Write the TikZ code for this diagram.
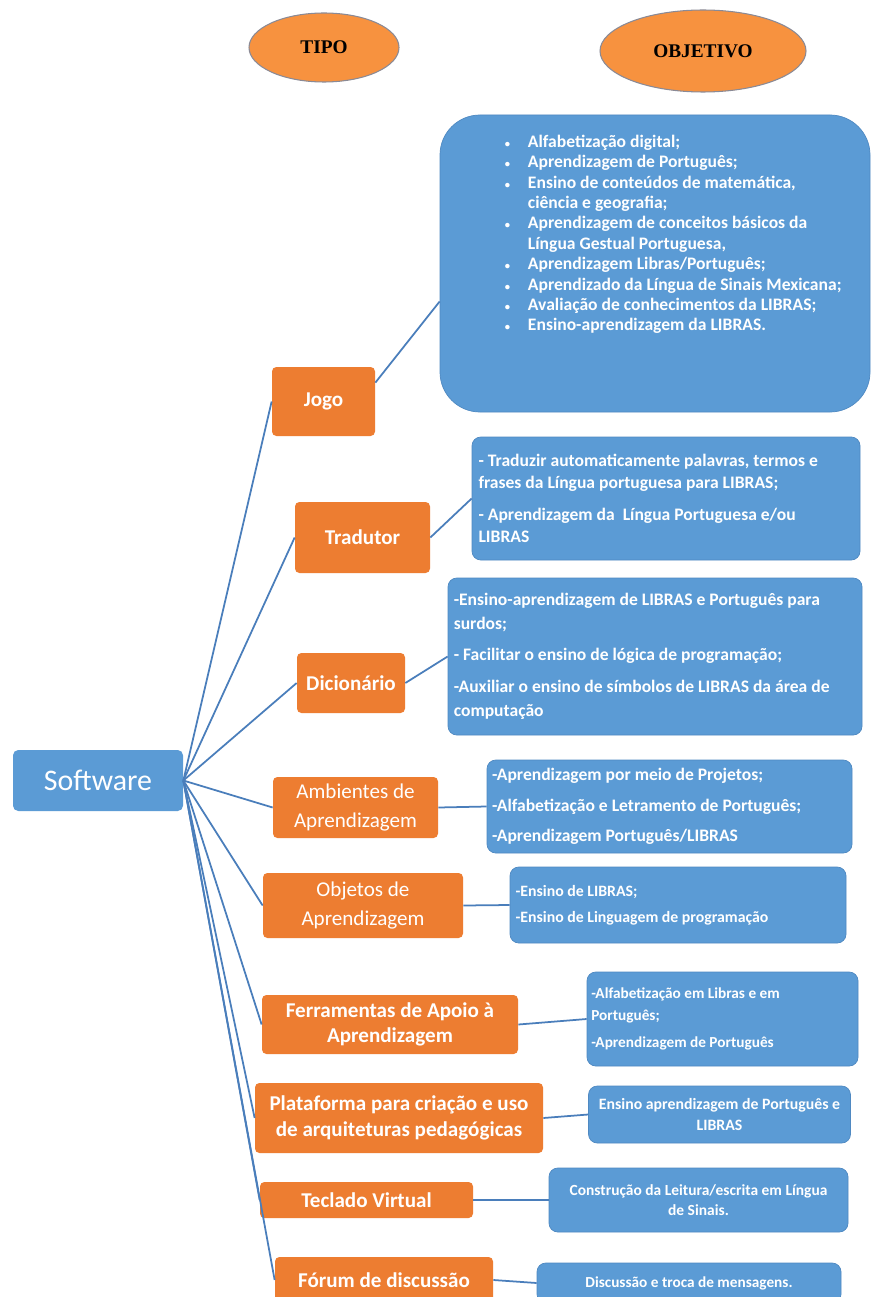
\documentclass[tikz,border=0pt]{standalone}
\usepackage{fontspec}
\setmainfont{Carlito}
\newfontfamily\titlefont{Liberation Serif}
\usetikzlibrary{shapes.geometric}

\definecolor{orng}{HTML}{ED7D31}
\definecolor{blu}{HTML}{5B9BD5}
\definecolor{bluedge}{HTML}{4F89C2}
\definecolor{ellfill}{HTML}{F7923F}
\definecolor{elledge}{HTML}{8A8A96}
\definecolor{linkc}{HTML}{4A7EBB}

\newcommand{\bul}{\makebox[0.56cm][l]{\hspace{0.1cm}\fontsize{6}{6}\selectfont\textbullet}}
\newcommand{\nobul}{\hspace*{0.56cm}}

\tikzset{
  sz/.style 2 args={minimum width=#1*0.02cm, minimum height=#2*0.02cm},
  head/.style={ellipse, fill=ellfill, draw=elledge, line width=0.6pt, inner sep=0pt,
    font=\titlefont\bfseries\fontsize{11}{13}\selectfont},
  rootbox/.style={fill=blu, text=white, rounded corners=3pt, inner sep=0pt,
    font=\fontsize{17}{20}\selectfont},
  tipobox/.style={fill=orng, text=white, rounded corners=2.5pt, inner sep=1pt, align=center,
    font=\bfseries\fontsize{12}{15}\selectfont},
  goalbox/.style={fill=blu, draw=bluedge, line width=0.4pt, text=white, rounded corners=5pt,
    inner xsep=2pt, inner ysep=1pt, align=flush left},
  link/.style={draw=linkc, line width=1pt}
}

\begin{document}
\begin{tikzpicture}[x=0.02cm,y=-0.02cm]
\useasboundingbox[fill=white] (0,0) rectangle (873,1297);

\node[head, sz={150}{69}] (tipo) at (324,47.5) {TIPO};
\node[head, sz={206}{82}] (objetivo) at (703,51) {OBJETIVO};

\node[rootbox, sz={170}{61}] (sw) at (98,780.5) {Software};

\node[tipobox, sz={103}{69}] (jogo) at (323.5,401.5) {Jogo};
\node[tipobox, sz={135}{71}] (trad) at (362.5,537.5) {Tradutor};
\node[tipobox, sz={108}{60}] (dic) at (351,683) {Dicionário};
\node[tipobox, sz={165}{61}, font=\fontsize{12}{17}\selectfont] (amb) at (355.5,807.5) {Ambientes de\\Aprendizagem};
\node[tipobox, sz={200}{65}, font=\fontsize{12}{17}\selectfont] (obj) at (363,905.5) {Objetos de\\Aprendizagem};
\node[tipobox, sz={256}{59}, font=\bfseries\fontsize{12}{14}\selectfont] (fer) at (390,1024.5) {Ferramentas de Apoio à\\Aprendizagem};
\node[tipobox, sz={288}{70}] (pla) at (399,1118) {Plataforma para criação e uso\\de arquiteturas pedagógicas};
\node[tipobox, sz={213}{36}] (tec) at (366.5,1200) {Teclado Virtual};
\node[tipobox, sz={218}{46}] (forum) at (384,1280) {Fórum de discussão};

\node[goalbox, sz={430}{297}, rounded corners=0.8cm,
  label={[text=white, align=flush left, inner sep=0pt, anchor=north west, xshift=1.2cm, yshift=-0.4cm,
    font=\bfseries\fontsize{10}{11.6}\selectfont]north west:{%
    \bul Alfabetização digital;\\
    \bul Aprendizagem de Português;\\
    \bul Ensino de conteúdos de matemática,\\
    \nobul ciência e geografia;\\
    \bul Aprendizagem de conceitos básicos da\\
    \nobul Língua Gestual Portuguesa,\\
    \bul Aprendizagem Libras/Português;\\
    \bul Aprendizado da Língua de Sinais Mexicana;\\
    \bul Avaliação de conhecimentos da LIBRAS;\\
    \bul Ensino-aprendizagem da LIBRAS.}}] (goal1) at (655,263.5) {};

\node[goalbox, sz={388}{123}, text width=7.5cm, font=\bfseries\fontsize{10}{12.5}\selectfont] (goal2) at (666,498.5)
  {- Traduzir automaticamente palavras, termos e\\frases da Língua portuguesa para LIBRAS;\\[6pt]- Aprendizagem da~ Língua Portuguesa e/ou\\LIBRAS};
\node[goalbox, sz={414}{157}, text width=8.05cm, font=\bfseries\fontsize{10}{13.5}\selectfont] (goal3) at (655,656.5)
  {-Ensino-aprendizagem de LIBRAS e Português para\\surdos;\\[4pt]- Facilitar o ensino de lógica de programação;\\[5pt]-Auxiliar o ensino de símbolos de LIBRAS da área de\\computação};
\node[goalbox, sz={365}{93}, text width=7.1cm, font=\bfseries\fontsize{10}{12}\selectfont] (goal4) at (669.5,806.5)
  {-Aprendizagem por meio de Projetos;\\[5.5pt]-Alfabetização e Letramento de Português;\\[5.5pt]-Aprendizagem Português/LIBRAS};
\node[goalbox, sz={336}{76}, text width=6.5cm, font=\bfseries\fontsize{9}{11}\selectfont] (goal5) at (678,905)
  {-Ensino de LIBRAS;\\[4pt]-Ensino de Linguagem de programação};
\node[goalbox, sz={271}{94}, text width=5.25cm, font=\bfseries\fontsize{8.7}{12.5}\selectfont] (goal6) at (722.5,1019)
  {-Alfabetização em Libras e em\\Português;\\[3pt]-Aprendizagem de Português};
\node[goalbox, sz={261}{57}, text width=5.1cm, align=flush center, font=\bfseries\fontsize{9}{12.5}\selectfont] (goal7) at (719.5,1114.5)
  {Ensino aprendizagem de Português e\\LIBRAS};
\node[goalbox, sz={299}{64}, text width=5.8cm, align=flush center, font=\bfseries\fontsize{8.8}{11.5}\selectfont] (goal8) at (698.5,1200)
  {Construção da Leitura/escrita em Língua\\de Sinais.};
\node[goalbox, sz={304}{40}, text width=5.9cm, align=flush center, font=\bfseries\fontsize{8.7}{11}\selectfont] (goal9) at (689,1283)
  {Discussão e troca de mensagens.};

\draw[link] (sw.east) -- (jogo.west);
\draw[link] (sw.east) -- (trad.west);
\draw[link] (sw.east) -- (dic.west);
\draw[link] (sw.east) -- (amb.west);
\draw[link] (sw.east) -- (obj.west);
\draw[link] (sw.east) -- (fer.west);
\draw[link] (sw.east) -- (pla.west);
\draw[link] (sw.east) -- (tec.west);
\draw[link] (sw.east) -- (forum.west);

\draw[link] (jogo.20) -- (goal1.190);
\draw[link] (trad.east) -- (goal2.west);
\draw[link] (dic.east) -- (goal3.west);
\draw[link] (amb.east) -- (goal4.west);
\draw[link] (obj.east) -- (goal5.west);
\draw[link] (fer.east) -- (goal6.west);
\draw[link] (pla.east) -- (goal7.west);
\draw[link] (tec.east) -- (goal8.west);
\draw[link] (forum.east) -- (goal9.west);
\end{tikzpicture}
\end{document}
